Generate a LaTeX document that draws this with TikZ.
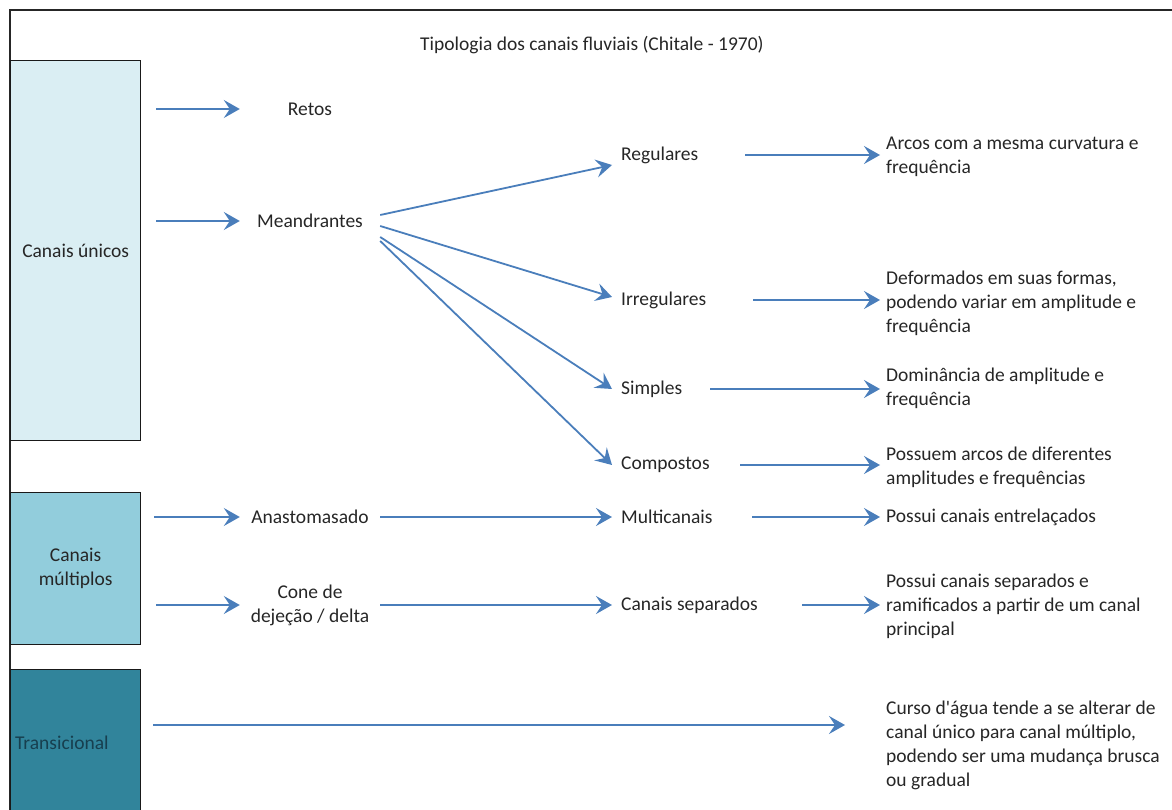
\documentclass[tikz,border=0pt]{standalone}
\usepackage{fontspec}
\setmainfont{Carlito}
\usepackage{xcolor}
\usetikzlibrary{arrows.meta, positioning, calc}
\definecolor{seta}{HTML}{4A7EBB}
\definecolor{aguaclara}{HTML}{DAEEF3}
\definecolor{aguamedia}{HTML}{92CDDC}
\definecolor{aguaescura}{HTML}{31849B}
\definecolor{textotrans}{HTML}{173F4F}
\def\tx{\fontsize{19.5}{24}\selectfont}

\begin{document}
\begin{tikzpicture}[x=1pt, y=-1pt,
  flecha/.style={draw=seta, line width=1.8pt, -{Stealth[length=16pt, width=18pt, inset=6pt]}},
  caixa/.style={draw=black!90, line width=1.3pt, minimum width=130pt, inner sep=0pt, anchor=north west, font=\tx, text=black!85, align=center},
  meio/.style={align=center, minimum width=140pt, inner sep=0pt, font=\tx, text=black!85},
  tipo/.style={anchor=west, inner xsep=9pt, inner ysep=0pt, font=\tx, text=black!85},
  desc/.style={anchor=west, align=left, inner xsep=6pt, inner ysep=0pt, font=\tx, text=black!85}]
\useasboundingbox (0,0) rectangle (1172,810);
\draw[line width=1.6pt, black!85] (10,810) -- (10,10) -- (1172,10);

\node[font=\tx, text=black!85] (titulo) at (592,45) {Tipologia dos canais fluviais (Chitale - 1970)};

\node[caixa, fill=aguaclara, minimum height=380pt] (unicos) at (10,60) {Canais únicos};
\node[caixa, fill=aguamedia, minimum height=152pt] (multiplos) at (10,492) {Canais\\múltiplos};
\node[caixa, fill=aguaescura, minimum height=160pt] (trans) at (10,669) {};
\node[anchor=west, inner sep=0pt, font=\tx, text=textotrans] (transtxt) at (15,743) {Transicional};

\node[meio] (retos) at (310,109) {Retos};
\node[meio] (mea) at (310,221) {Meandrantes};
\node[meio] (anas) at (310,517) {Anastomasado};
\node[meio] (cone) at (310,605) {Cone de\\dejeção / delta};

\node[tipo] (reg) at (612,155) {Regulares};
\node[tipo] (irr) at (612,300) {Irregulares};
\node[tipo] (simp) at (612,389) {Simples};
\node[tipo] (comp) at (612,465) {Compostos};
\node[tipo] (multi) at (612,517) {Multicanais};
\node[tipo] (sep) at (612,605) {Canais separados};

\node[desc] (arcos) at (880,157) {Arcos com a mesma curvatura e\\frequência};
\node[desc] (deform) at (880,303) {Deformados em suas formas,\\podendo variar em amplitude e\\frequência};
\node[desc] (domin) at (880,388) {Dominância de amplitude e\\frequência};
\node[desc] (possuem) at (880,467) {Possuem arcos de diferentes\\amplitudes e frequências};
\node[desc] (entre) at (880,517) {Possui canais entrelaçados};
\node[desc] (separ) at (880,606) {Possui canais separados e\\ramificados a partir de um canal\\principal};
\node[desc] (curso) at (880,745) {Curso d\textquotesingle água tende a se alterar de\\canal único para canal múltiplo,\\podendo ser uma mudança brusca\\ou gradual};
\coordinate (fimtrans) at (845,725);

\draw[flecha, shorten <=15pt] (unicos.east |- retos) -- (retos.west);
\draw[flecha, shorten <=15pt] (unicos.east |- mea) -- (mea.west);
\draw[flecha, shorten <=13pt] (multiplos.east |- anas) -- (anas.west);
\draw[flecha, shorten <=15pt] (multiplos.east |- cone) -- (cone.west);
\draw[flecha, shorten <=12pt] (trans.east |- fimtrans) -- (fimtrans);

\draw[flecha] ([yshift=6]mea.east) -- ([yshift=-10]reg.west);
\draw[flecha] ([yshift=-5]mea.east) -- ([yshift=3]irr.west);
\draw[flecha] ([yshift=-16]mea.east) -- (simp.west);
\draw[flecha] ([yshift=-20]mea.east) -- (comp.west);
\draw[flecha] (anas.east) -- (multi.west);
\draw[flecha] (cone.east) -- (sep.west);

\draw[flecha] ([xshift=133]reg.west) -- (reg.west -| arcos.west);
\draw[flecha] ([xshift=141]irr.west) -- (irr.west -| deform.west);
\draw[flecha] ([xshift=98]simp.west) -- (simp.west -| domin.west);
\draw[flecha] ([xshift=128]comp.west) -- (comp.west -| possuem.west);
\draw[flecha] ([xshift=140]multi.west) -- (multi.west -| entre.west);
\draw[flecha] ([xshift=190]sep.west) -- (sep.west -| separ.west);
\end{tikzpicture}
\end{document}
